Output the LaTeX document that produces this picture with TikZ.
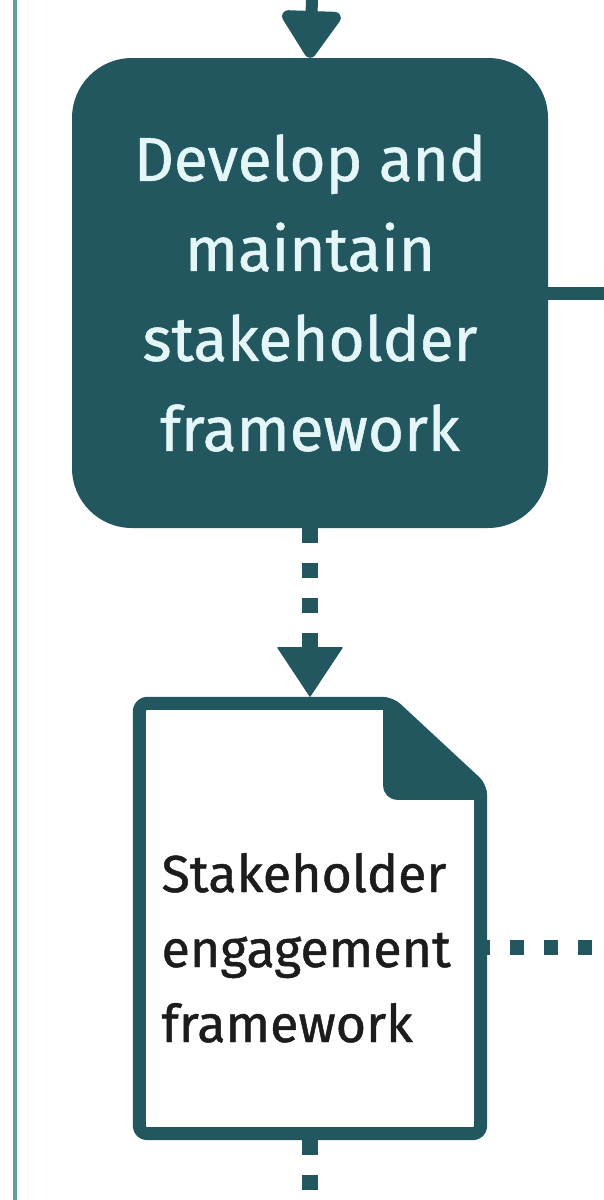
\documentclass[tikz,border=0pt]{standalone}
\usepackage{fontspec}
\setmainfont{Fira Sans}[FakeBold=0.9]
\usetikzlibrary{positioning,arrows.meta}

\definecolor{procteal}{HTML}{235760}
\definecolor{proctext}{HTML}{E4F6F7}
\definecolor{laneline}{HTML}{5E9FA1}
\definecolor{doctext}{HTML}{1C1C1C}

\tikzset{
  process/.style={rectangle, rounded corners=60pt, fill=procteal, text=proctext,
    minimum width=476pt, minimum height=470pt, inner sep=0pt, align=center,
    font=\fontsize{62}{90}\selectfont},
  document/.style={rectangle, minimum width=354pt, minimum height=443pt, inner sep=0pt},
  flow/.style={draw=procteal, line width=12pt,
    -{Triangle[width=66pt, length=52pt, round]}},
  dataflow/.style={draw=procteal, line width=16pt, dash pattern=on 15pt off 20pt},
  docline/.style={draw=procteal, line width=13pt, rounded corners=8pt, line join=round},
}

\begin{document}
\begin{tikzpicture}[x=1pt, y=-1pt]
   % Sizes
   \pgfmathsetmacro{\half}{6.5}
   \pgfmathsetmacro{\fold}{97}
   \useasboundingbox (0,0) rectangle (604,1200);

   % swimlane edge
   \draw[laneline, line width=4pt] (15,0) -- (15,1200);

   % vertices
   \coordinate (intop) at (312,0);
   \node[process] (develop) at (310,293) {Develop and\\maintain\\stakeholder\\framework};
   \coordinate (outright) at (604,293);
   \node[document] (frame) at (310,918.5) {};
   \coordinate (dataright) at (604,947);
   \coordinate (databottom) at (310,1200);

   % document outline
   \draw[docline]
     ([shift={(\half,\half)}]frame.north west)
     -- ([shift={(-\fold,\half)}]frame.north east)
     -- ([shift={(-\half,\fold-\half)}]frame.north east)
     -- ([shift={(-\half,-\half)}]frame.south east)
     -- ([shift={(\half,-\half)}]frame.south west) -- cycle;
   \fill[procteal, rounded corners=14pt]
     ([shift={(-104,0)}]frame.north east)
     -- ([shift={(-104,103)}]frame.north east)
     -- ([shift={(0,103)}]frame.north east) -- cycle;

   % draw diagram
   \draw[flow] (intop) -- (develop.north);
   \draw[draw=procteal, line width=13pt] (develop.east) -- (outright);
   \draw[dataflow] (develop.south) -- ++(0,120);
   \draw[draw=procteal, -{Triangle[width=66pt, length=50pt, round]}, line width=1pt]
     ([yshift=52pt]frame.north) -- (frame.north);
   \draw[dataflow, line width=15pt, dash pattern=on 14pt off 20pt, dash phase=11pt]
     (frame.east |- dataright) -- (dataright);
   \draw[dataflow] (frame.south) -- (databottom);

   % labels
   \node[anchor=base west, align=left, text=doctext,
     font=\fontsize{52}{75}\selectfont] (framelabel) at (158,1042)
     {Stakeholder\\engagement\\framework};
\end{tikzpicture}
\end{document}
